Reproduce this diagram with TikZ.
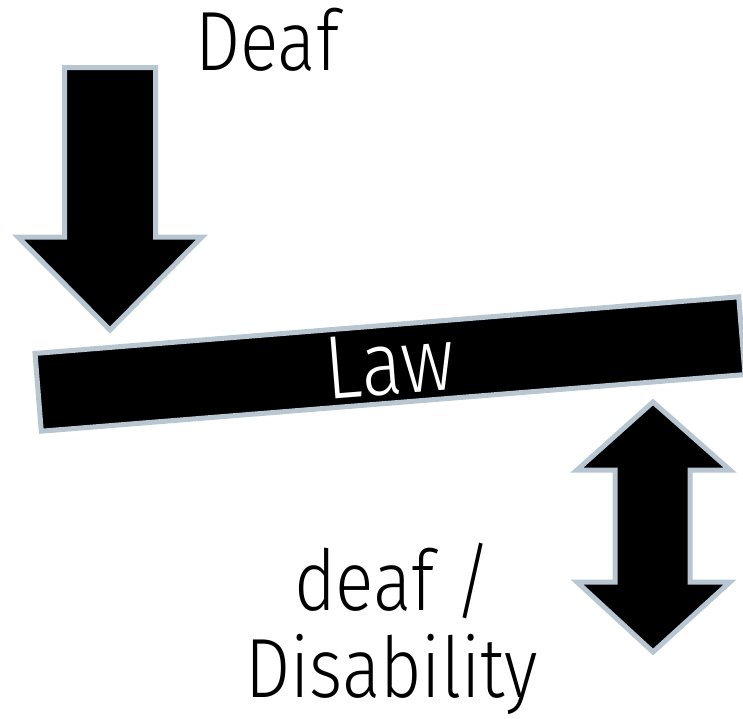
\documentclass[tikz,border=0pt]{standalone}
\usepackage{fontspec}
\setmainfont{Fira Sans Light}[FakeStretch=0.85]
\usepackage{xcolor}
\usetikzlibrary{positioning, calc}
\definecolor{edgegrey}{HTML}{B8C6D2}

\begin{document}
\begin{tikzpicture}[
        x=1pt, y=-1pt,
        blackshape/.style={fill=black, draw=edgegrey, line width=5pt, miter limit=10},
        bigtext/.style={inner sep=0pt, font=\fontsize{84}{90}\selectfont}
    ]
        \useasboundingbox (0,0) rectangle (743,718);

        % down arrow from the top
        \draw[blackshape] (64.5,67.5) -- (155.5,67.5) -- (155.5,237) -- (202,237)
            -- (110,330) -- (18,237) -- (64.5,237) -- cycle;
        \node[bigtext, anchor=base west] (deaf) at (195,70) {Deaf};

        % tilted bar
        \node[blackshape, rotate=4.6, minimum width=706pt, minimum height=78pt,
            inner sep=0pt, text=white, font=\fontsize{90}{96}\selectfont] (law) at (390,364) {Law};

        % double arrow below the bar
        \draw[blackshape] (653,402) -- (730,470) -- (690,470) -- (690,582) -- (730,582)
            -- (653,652) -- (577,582) -- (615,582) -- (615,470) -- (577,470) -- cycle;
        \node[bigtext, anchor=base west] (lower) at (294,610) {deaf /};
        \node[bigtext, anchor=base west] (dis) at (245,697) {Disability};
    \end{tikzpicture}
\end{document}
